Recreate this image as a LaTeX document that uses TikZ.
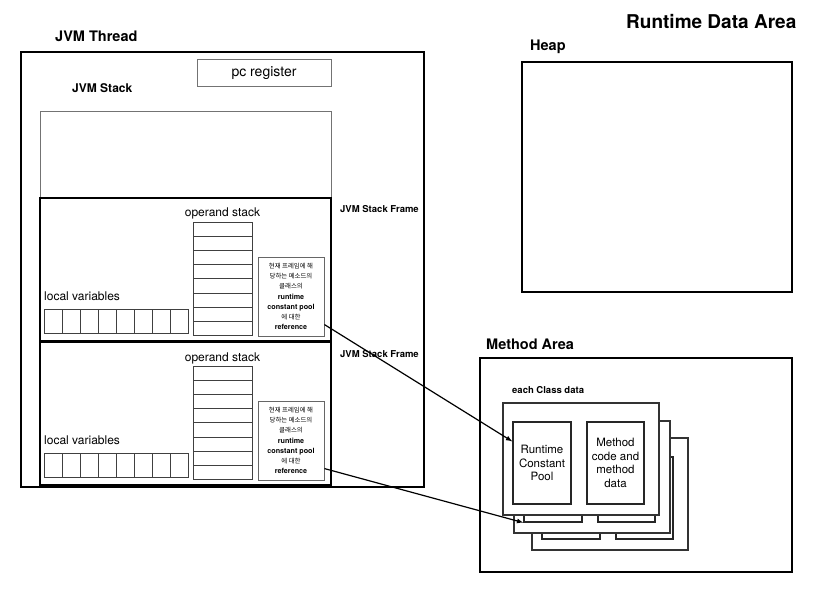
\documentclass[tikz,border=0pt]{standalone}
\usepackage{fontspec}
\setmainfont{TeX Gyre Heros}
\newfontfamily\kr{Noto Sans CJK KR}
\usepackage{tikz}
\usetikzlibrary{arrows,positioning,calc}
\tikzstyle{area}=[draw,line width=1.8pt]
\tikzstyle{stackframe}=[draw,line width=1.6pt]
\tikzstyle{thinbox}=[draw=black!55,line width=0.9pt]
\tikzstyle{cell}=[draw=black!75,line width=0.8pt]
\tikzstyle{heading}=[font=\bfseries\fontsize{14.5}{17}\selectfont,anchor=base west,inner sep=0pt]
\tikzstyle{plain}=[font=\fontsize{12}{14}\selectfont,inner sep=0pt]
\tikzstyle{refbox}=[draw=black!60,line width=0.9pt,minimum width=66pt,minimum height=79pt,inner sep=0pt,align=center,font=\bfseries\fontsize{7.2}{10.2}\selectfont]
\tikzstyle{classbox}=[draw=black!80,fill=white,line width=1.3pt,minimum width=156pt,minimum height=112pt,inner sep=0pt]
\tikzstyle{innerbox}=[draw=black!85,fill=white,line width=1.3pt,minimum height=82pt,inner sep=0pt]
\tikzstyle{ptr}=[-latex,line width=1.2pt]
\newcommand{\krline}[1]{{\kr\mdseries\fontsize{6.4}{10.2}\selectfont #1}}

\begin{document}
\begin{tikzpicture}[x=1pt,y=-1pt]
  \useasboundingbox (0,0) rectangle (820,615);
  \node [heading,font=\bfseries\fontsize{19}{22}\selectfont] (rda) at (626,29) {Runtime Data Area};

  % JVM thread
  \draw [area] (21,52) rectangle (424,487);
  \node [heading] (thread) at (55,42) {JVM Thread};
  \node [heading,font=\bfseries\fontsize{12}{14}\selectfont] (jvmstack) at (72,93) {JVM Stack};
  \node [thinbox,minimum width=134pt,minimum height=27pt,inner sep=0pt,font=\fontsize{14}{16}\selectfont] (pc) at (264,73) {pc register};
  \draw [thinbox] (40,198) -- (40,111) -- (331,111) -- (331,198);

  \foreach \dy/\n in {0/1,144/2} {
    \draw [stackframe] (40,198+\dy) rectangle (331,341+\dy);
    \node [heading,font=\bfseries\fontsize{9.5}{11}\selectfont] (sf\n) at (340,213+\dy) {JVM Stack Frame};
    \node [plain,anchor=base] (ops\n) at (222.5,217+\dy) {operand stack};
    \foreach \i in {0,...,7}
      \draw [cell] (193,222+\dy+14.2*\i) rectangle (252,236.2+\dy+14.2*\i);
    \node [plain,anchor=base west] (lv\n) at (44,300+\dy) {local variables};
    \foreach \i in {0,...,7}
      \draw [cell] (44+18*\i,309+\dy) rectangle (62+18*\i,333+\dy);
    \node [refbox] (ref\n) at (291,296.5+\dy) {\krline{현재 프레임에 해}\\\krline{당하는 메소드의}\\\krline{클래스의}\\runtime\\constant pool\\\krline{에 대한}\\reference};
  }

  % heap
  \node [heading] (heap) at (530,51) {Heap};
  \draw [area] (522,62) rectangle (792,292);

  % method area
  \node [heading] (ma) at (486,349) {Method Area};
  \draw [area] (480,358) rectangle (792,572);
  \node [heading,font=\bfseries\fontsize{9.5}{11}\selectfont] (ecd) at (512,393) {each Class data};
  \foreach \dx/\dy/\n in {29/35/3,11/18/2,0/0/1} {
    \node [classbox] (cls\n) at (581+\dx,459+\dy) {};
    \node [innerbox,minimum width=58pt] (rcp\n) at (542+\dx,463+\dy) {};
    \node [innerbox,minimum width=57pt] (mcd\n) at (615.5+\dx,463+\dy) {};
  }
  \node [plain,align=center,font=\fontsize{11.5}{13.5}\selectfont] (rcptext) at (rcp1) {Runtime\\Constant\\Pool};
  \node [plain,align=center,font=\fontsize{11.5}{13.5}\selectfont] (mcdtext) at (mcd1) {Method\\code and\\method\\data};

  % references to the constant pool
  \draw [ptr] (ref1.-40) -- (rcp1.144);
  \draw [ptr] (ref2.-40) -- (rcp2.south west);
\end{tikzpicture}
\end{document}
